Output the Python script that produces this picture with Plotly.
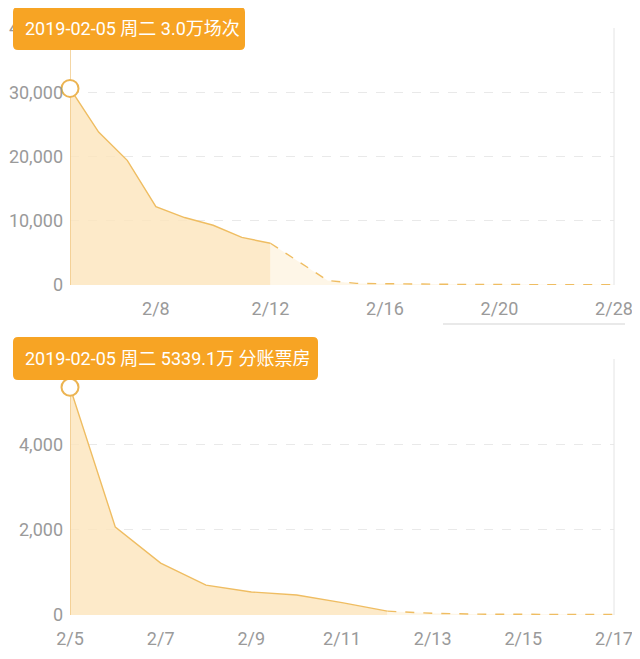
import plotly.graph_objects as go

# 场次 (screenings) per day, top chart
show_dates = ["2019-02-05", "2019-02-06", "2019-02-07", "2019-02-08", "2019-02-09",
              "2019-02-10", "2019-02-11", "2019-02-12", "2019-02-13", "2019-02-14",
              "2019-02-15", "2019-02-16", "2019-02-17", "2019-02-18", "2019-02-19",
              "2019-02-20", "2019-02-21", "2019-02-22", "2019-02-23", "2019-02-24"]
show_values = [30600, 23800, 19400, 12200, 10500, 9300, 7400, 6500, 3600, 700,
               250, 180, 140, 110, 90, 80, 60, 50, 40, 30]
show_split = 8  # real data up to 2/12, forecast after
show_tickvals = ["2019-02-08", "2019-02-12", "2019-02-16", "2019-02-20", "2019-02-24"]
show_ticktext = ["2/8", "2/12", "2/16", "2/20", "2/28"]
show_yticks = [0, 10000, 20000, 30000, 40000]

# 分账票房 (box office, 万) per day, bottom chart
box_dates = ["2019-02-05", "2019-02-06", "2019-02-07", "2019-02-08", "2019-02-09",
             "2019-02-10", "2019-02-11", "2019-02-12", "2019-02-13", "2019-02-14",
             "2019-02-15", "2019-02-16", "2019-02-17"]
box_values = [5339.1, 2060, 1215, 700, 540, 470, 290, 90, 40, 20, 15, 10, 10]
box_split = 8
box_tickvals = ["2019-02-05", "2019-02-07", "2019-02-09", "2019-02-11",
                "2019-02-13", "2019-02-15", "2019-02-17"]
box_ticktext = ["2/5", "2/7", "2/9", "2/11", "2/13", "2/15", "2/17"]
box_yticks = [0, 2000, 4000, 6000]

tip_top = "2019-02-05 周二 3.0万场次"
tip_bottom = "2019-02-05 周二 5339.1万 分账票房"

LINE = "#EFBD62"
FILL = "rgba(252,229,188,0.8)"
FILL_LIGHT = "rgba(253,240,215,0.6)"
ORANGE = "#F7A424"
FONT = "Roboto, 'Noto Sans CJK SC', sans-serif"

# page body has an 8px margin, so work in window pixels minus that
W, H, OFF = 632, 651, 8


def px(x):
    return (x - OFF) / W


def py(y):
    return 1 - (y - OFF) / H


fig = go.Figure()


def add_series(dates, values, split, xa, ya):
    # real part: solid line, stronger fill
    fig.add_trace(go.Scatter(x=dates[:split], y=values[:split], mode="lines",
                             line=dict(color=LINE, width=1.4), fill="tozeroy",
                             fillcolor=FILL, xaxis=xa, yaxis=ya, hoverinfo="skip"))
    # forecast part: dashed line, pale fill
    fig.add_trace(go.Scatter(x=dates[split - 1:], y=values[split - 1:], mode="lines",
                             line=dict(color=LINE, width=1.4, dash="dash"),
                             fill="tozeroy", fillcolor=FILL_LIGHT,
                             xaxis=xa, yaxis=ya, hoverinfo="skip"))
    # hover crosshair on first day
    fig.add_trace(go.Scatter(x=[dates[0], dates[0]], y=[0, values[0] * 2], mode="lines",
                             line=dict(color="#F0C886", width=1.5),
                             xaxis=xa, yaxis=ya, hoverinfo="skip"))
    fig.add_trace(go.Scatter(x=[dates[0]], y=[values[0]], mode="markers",
                             marker=dict(size=17, color="white",
                                         line=dict(color="#ECB452", width=2)),
                             xaxis=xa, yaxis=ya, hoverinfo="skip", cliponaxis=False))


add_series(show_dates, show_values, show_split, "x", "y")
add_series(box_dates, box_values, box_split, "x2", "y2")

xdom = [px(70), px(614)]
top_dom = [py(285), py(28)]
bot_dom = [py(615), py(359)]

axis_font = dict(family=FONT, size=18, color="#9A9A9A")
common_x = dict(showgrid=False, zeroline=False, showline=False, ticks="",
                tickfont=axis_font, ticklabelstandoff=11, automargin=False)
common_y = dict(showgrid=True, gridcolor="#E9E9E9", griddash="dash", gridwidth=1,
                zeroline=False, showline=False, ticks="", tickformat=",",
                tickfont=axis_font, ticklabelstandoff=6, automargin=False)

fig.update_layout(
    width=W, height=H,
    margin=dict(l=0, r=0, t=0, b=0),
    paper_bgcolor="white", plot_bgcolor="white",
    showlegend=False,
    font=dict(family=FONT),
    xaxis=dict(domain=xdom, anchor="y", type="date",
               range=[show_dates[0], show_dates[-1]],
               tickvals=show_tickvals, ticktext=show_ticktext, **common_x),
    yaxis=dict(domain=top_dom, anchor="x", range=[0, 40000],
               tickvals=show_yticks, **common_y),
    xaxis2=dict(domain=xdom, anchor="y2", type="date",
                range=[box_dates[0], box_dates[-1]],
                tickvals=box_tickvals, ticktext=box_ticktext, **common_x),
    yaxis2=dict(domain=bot_dom, anchor="x2", range=[0, 6000],
                tickvals=box_yticks, **common_y),
)

# right border of each plot
for xr, yr in (("x domain", "y domain"), ("x2 domain", "y2 domain")):
    fig.add_shape(type="line", xref=xr, yref=yr, x0=1, x1=1, y0=0, y1=1,
                  line=dict(color="#E4E4E4", width=1))

# stray divider line under the top axis
fig.add_shape(type="line", xref="paper", yref="paper",
              x0=px(443), x1=px(625), y0=py(324), y1=py(324),
              line=dict(color="#E2E2E2", width=1.5))


def rounded_box(x0, y0, x1, y1, r=5):
    rx, ry = r / W, r / H
    a, b, c, d = px(x0), px(x1), py(y0), py(y1)  # c is top, d is bottom
    return (f"M{a + rx},{c} L{b - rx},{c} Q{b},{c} {b},{c - ry} "
            f"L{b},{d + ry} Q{b},{d} {b - rx},{d} L{a + rx},{d} "
            f"Q{a},{d} {a},{d + ry} L{a},{c - ry} Q{a},{c} {a + rx},{c} Z")


# tooltips
for text, box in ((tip_top, (13, 7, 245, 50)), (tip_bottom, (13, 337, 318, 380))):
    fig.add_shape(type="path", xref="paper", yref="paper", layer="above",
                  path=rounded_box(*box), fillcolor=ORANGE, line=dict(width=0))
    fig.add_annotation(xref="paper", yref="paper", x=px(box[0] + 10),
                       y=py((box[1] + box[3]) / 2), xanchor="left", yanchor="middle",
                       text=text, showarrow=False,
                       font=dict(family=FONT, size=18, color="white"))

fig.write_html("out.html")
